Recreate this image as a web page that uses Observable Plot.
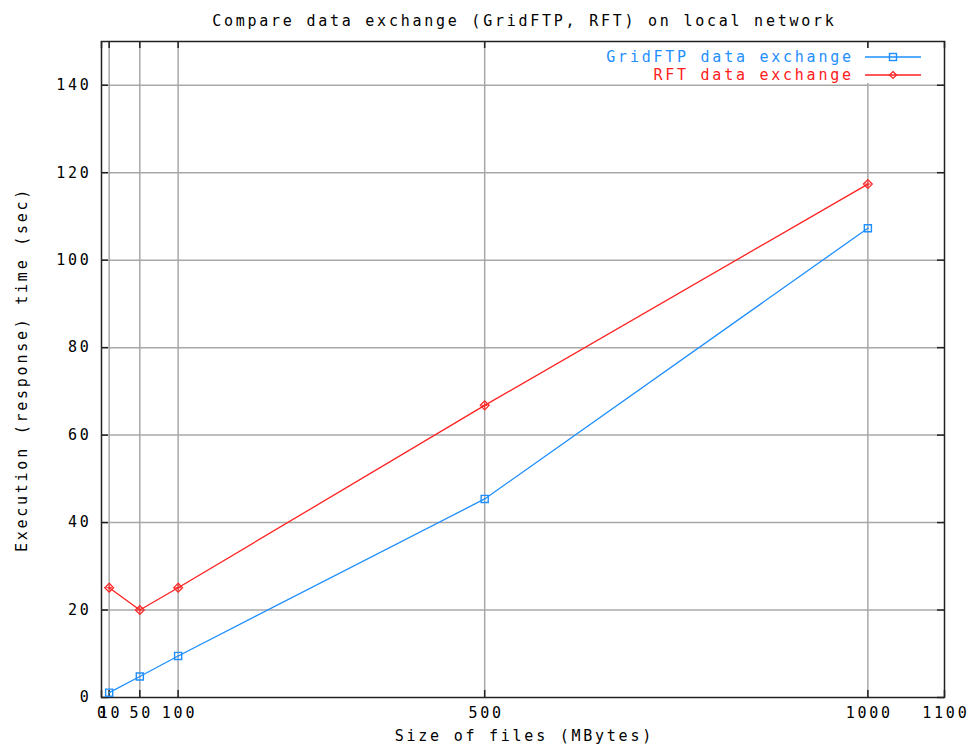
<!DOCTYPE html>
<html><head><meta charset="utf-8">
<script src="https://cdn.jsdelivr.net/npm/d3@7"></script>
<script src="https://cdn.jsdelivr.net/npm/@observablehq/plot@0.6"></script>
<style>body{margin:0;background:#fff}</style>
</head><body><div id="chart"></div>
<script>
const sizes = [10, 50, 100, 500, 1000];
const gridftp = [1.1, 4.8, 9.5, 45.4, 107.3];
const rft = [25.1, 20.0, 25.1, 66.8, 117.4];
const seriesNames = ["GridFTP data exchange", "RFT data exchange"];
const seriesColors = ["#1f8fff", "#ff2020"];
const xTicks = [0, 10, 50, 100, 500, 1000, 1100];
const xGrid = [10, 50, 100, 500, 1000];
const yTicks = [0, 20, 40, 60, 80, 100, 120, 140];
const yGrid = [20, 40, 60, 80, 100, 120, 140];
const title = "Compare data exchange (GridFTP, RFT) on local network";
const xLabel = "Size of files (MBytes)";
const yLabel = "Execution (response) time (sec)";

const W = 979, H = 755;
const mL = 101, mR = 35, mT = 41, mB = 58;
const pW = W - mL - mR, pH = H - mT - mB;
const LS = 2.75;

const gData = sizes.map((s, i) => ({x: s, y: gridftp[i]}));
const rData = sizes.map((s, i) => ({x: s, y: rft[i]}));

const plot = Plot.plot({
  width: W, height: H,
  marginLeft: mL, marginRight: mR, marginTop: mT, marginBottom: mB,
  style: {fontFamily: "'DejaVu Sans Mono', monospace", fontSize: "15px", letterSpacing: LS + "px", background: "#fff", color: "#000"},
  x: {domain: [0, 1100]},
  y: {domain: [0, 150]},
  marks: [
    Plot.ruleX(xGrid, {x: d => d, stroke: "#a8a8a8", strokeWidth: 1.5}),
    Plot.ruleY(yGrid, {y: d => d, stroke: "#a8a8a8", strokeWidth: 1.5}),
    Plot.tickX(xTicks, {x: d => d, insetTop: pH - 7, stroke: "#222", strokeWidth: 1.5}),
    Plot.tickX(xTicks, {x: d => d, insetBottom: pH - 7, stroke: "#222", strokeWidth: 1.5}),
    Plot.tickY(yTicks, {y: d => d, insetRight: pW - 7, stroke: "#222", strokeWidth: 1.5}),
    Plot.tickY(yTicks, {y: d => d, insetLeft: pW - 7, stroke: "#222", strokeWidth: 1.5}),
    Plot.frame({stroke: "#222", strokeWidth: 1.5}),
    Plot.axisX({ticks: xTicks, tickSize: 0, tickPadding: 10, tickFormat: d => String(d), label: null, fill: "#000", dx: LS / 2}),
    Plot.axisY({ticks: yTicks, tickSize: 0, tickPadding: 10, tickFormat: d => String(d), label: null, fill: "#000"}),
    Plot.line(gData, {x: "x", y: "y", stroke: seriesColors[0], strokeWidth: 1.3}),
    Plot.line(rData, {x: "x", y: "y", stroke: seriesColors[1], strokeWidth: 1.3}),
    Plot.dot(gData, {x: "x", y: "y", symbol: "square", r: 4, stroke: seriesColors[0], fill: "none", strokeWidth: 1.4}),
    Plot.dot(gData, {x: "x", y: "y", r: 0.8, fill: seriesColors[0]}),
    Plot.dot(rData, {x: "x", y: "y", symbol: "diamond2", r: 4, stroke: seriesColors[1], fill: "none", strokeWidth: 1.2}),
    Plot.dot(rData, {x: "x", y: "y", symbol: "plus", r: 2, stroke: seriesColors[1], fill: "none", strokeWidth: 1}),
    Plot.text([title], {frameAnchor: "top", dy: -26, dx: LS / 2, fill: "#000"}),
    Plot.text([xLabel], {frameAnchor: "bottom", dy: 43, dx: LS / 2, fill: "#000"}),
    Plot.text([yLabel], {frameAnchor: "left", dx: -79, rotate: -90, textAnchor: "middle", fill: "#000"})
  ]
});
document.getElementById("chart").appendChild(plot);

// legend (gnuplot key, top-right inside frame)
const svg = d3.select(plot);
const g = svg.append("g");
g.append("rect").attr("x", 590).attr("y", 48).attr("width", W - mR - 3 - 590).attr("height", 35).attr("fill", "#fff");
seriesNames.forEach((name, i) => {
  const y = 57 + i * 18;
  g.append("text").attr("x", 851 + LS).attr("y", y).attr("dy", "0.35em")
    .attr("text-anchor", "end").attr("fill", seriesColors[i]).text(name);
  g.append("line").attr("x1", 865).attr("x2", 921).attr("y1", y).attr("y2", y)
    .attr("stroke", seriesColors[i]).attr("stroke-width", 1.3);
  if (i === 0) {
    g.append("rect").attr("x", 889.5).attr("y", y - 3.5).attr("width", 7).attr("height", 7)
      .attr("fill", "none").attr("stroke", seriesColors[i]).attr("stroke-width", 1.4);
  } else {
    g.append("path").attr("d", `M893,${y-3.5}L896.5,${y}L893,${y+3.5}L889.5,${y}Z`)
      .attr("fill", "none").attr("stroke", seriesColors[i]).attr("stroke-width", 1.2);
  }
});
</script>
</body></html>
